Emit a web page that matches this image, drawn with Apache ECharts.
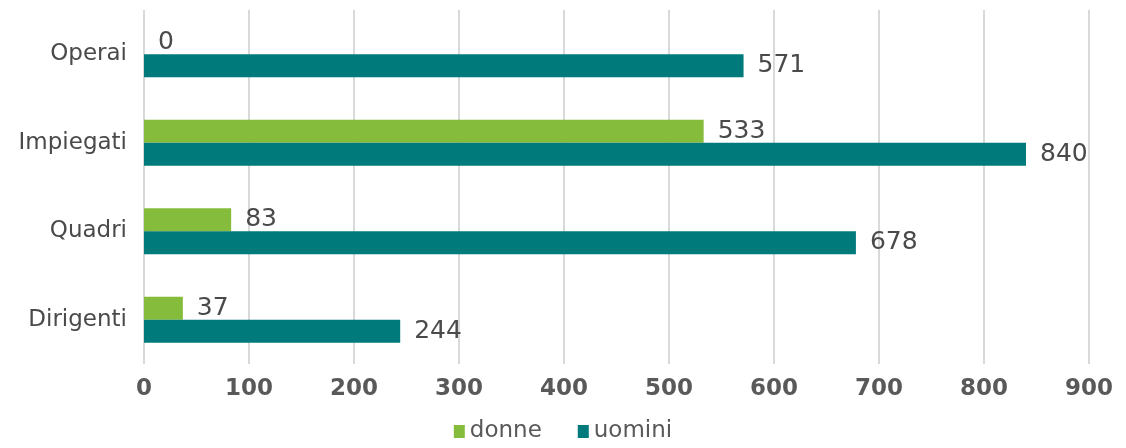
<!DOCTYPE html>
<html><head><meta charset="utf-8">
<script src="https://cdn.jsdelivr.net/npm/echarts@6/dist/echarts.min.js"></script>
<style>html,body{margin:0;padding:0;background:#fff}#c{width:1126px;height:448px}</style>
</head><body><div id="c"></div>
<script>
const categories = ['Dirigenti', 'Quadri', 'Impiegati', 'Operai'];
const donne = [37, 83, 533, 0];
const uomini = [244, 678, 840, 571];
const xTicks = {min: 0, max: 900, interval: 100};

const chart = echarts.init(document.getElementById('c'));
const font = '"DejaVu Sans", sans-serif';
const lbl = {show: true, position: 'right', distance: 14, fontSize: 25, color: '#4a4a4a', fontFamily: font};
chart.setOption({
  animation: false,
  textStyle: {fontFamily: font},
  grid: {left: 144, right: 37, top: 10, bottom: 84},
  legend: {
    data: ['donne', 'uomini'], bottom: 0, left: 'center', itemWidth: 11, itemHeight: 13, itemGap: 36,
    icon: 'rect', textStyle: {fontSize: 23, color: '#595959', fontFamily: font}
  },
  xAxis: {
    type: 'value', min: xTicks.min, max: xTicks.max, interval: xTicks.interval,
    axisLine: {show: false}, axisTick: {show: false},
    splitLine: {lineStyle: {color: '#D9D9D9', width: 2}},
    axisLabel: {fontSize: 23, fontWeight: 'bold', color: '#595959', margin: 14, fontFamily: font}
  },
  yAxis: {
    type: 'category', data: categories,
    axisLine: {show: false}, axisTick: {show: false},
    axisLabel: {fontSize: 23, color: '#4a4a4a', margin: 17, fontFamily: font}
  },
  series: [
    {name: 'donne', type: 'bar', data: donne, barWidth: 23, barGap: '0%',
     itemStyle: {color: '#86BC3C'}, label: lbl},
    {name: 'uomini', type: 'bar', data: uomini, barWidth: 23, barGap: '0%',
     itemStyle: {color: '#007A7A'}, label: lbl}
  ]
});
</script></body></html>
